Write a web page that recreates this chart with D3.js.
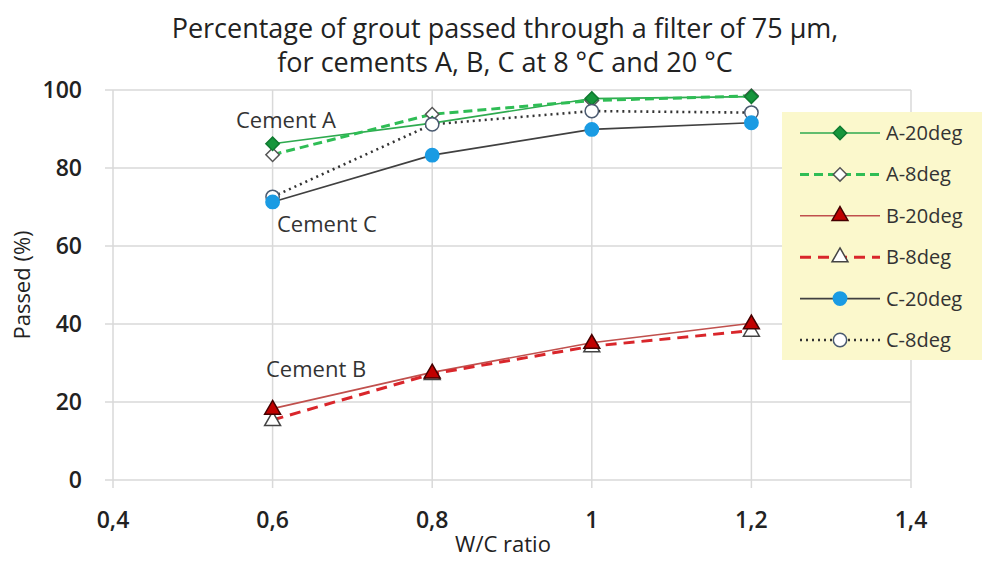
<!DOCTYPE html>
<html>
<head>
<meta charset="utf-8">
<script src="https://cdn.jsdelivr.net/npm/d3@7"></script>
<style>
  body { margin: 0; background: #fff; }
  svg { display: block; font-family: "Open Sans", "Noto Sans", sans-serif; }
</style>
</head>
<body>
<div id="chart"></div>
<script>
const width = 982;
const height = 561;

// data
const wcRatios = [0.6, 0.8, 1.0, 1.2];
const a20 = [86.2, 91.5, 97.8, 98.3];
const a8 = [83.4, 93.8, 97.3, 98.5];
const b20 = [18.3, 27.6, 35.2, 40.2];
const b8 = [15.4, 27.2, 34.3, 38.3];
const c20 = [71.3, 83.3, 89.9, 91.6];
const c8 = [72.6, 91.2, 94.6, 94.2];
const xTicks = [0.4, 0.6, 0.8, 1.0, 1.2, 1.4];
const yTicks = [0, 20, 40, 60, 80, 100];
const seriesNames = ["A-20deg", "A-8deg", "B-20deg", "B-8deg", "C-20deg", "C-8deg"];

const series = [
  {name: seriesNames[0], values: a20, stroke: "#2eaa4f", width: 1.6, dash: null, shape: "diamond", fill: "#16963c", mstroke: "#0f7a30"},
  {name: seriesNames[1], values: a8, stroke: "#2fbd55", width: 3, dash: "9,5", shape: "diamond", fill: "#fff", mstroke: "#555"},
  {name: seriesNames[2], values: b20, stroke: "#c0504d", width: 1.6, dash: null, shape: "triangle", fill: "#c00000", mstroke: "#400"},
  {name: seriesNames[3], values: b8, stroke: "#d9262b", width: 3, dash: "11,7", shape: "triangle", fill: "#fff", mstroke: "#444"},
  {name: seriesNames[4], values: c20, stroke: "#404040", width: 1.6, dash: null, shape: "circle", fill: "#1a9be3", mstroke: "#1a9be3"},
  {name: seriesNames[5], values: c8, stroke: "#333", width: 2.6, dash: "2,4", shape: "circle", fill: "#fff", mstroke: "#4a5a70"}
];

// marker path + extra rotation per shape
const markers = {
  diamond: {path: d3.symbol().type(d3.symbolSquare).size(90)(), rot: 45, dy: 0},
  triangle: {path: d3.symbol().type(d3.symbolTriangle).size(110)(), rot: 0, dy: 1},
  circle: {path: d3.symbol().type(d3.symbolCircle).size(140)(), rot: 0, dy: 0}
};

const svg = d3.select("#chart")
  .append("svg")
  .attr("width", width)
  .attr("height", height);

const x = d3.scaleLinear().domain([0.4, 1.4]).range([113, 911]);
const y = d3.scaleLinear().domain([0, 100]).range([480, 90]);

// gridlines
svg.append("g")
  .selectAll("line")
  .data(yTicks)
  .enter().append("line")
  .attr("x1", x(0.4) - 8).attr("x2", x(1.4))
  .attr("y1", d => y(d)).attr("y2", d => y(d))
  .attr("stroke", "#d9d9d9").attr("stroke-width", 1.5);

svg.append("g")
  .selectAll("line")
  .data(xTicks)
  .enter().append("line")
  .attr("x1", d => x(d)).attr("x2", d => x(d))
  .attr("y1", y(100)).attr("y2", y(0) + 8)
  .attr("stroke", "#d9d9d9").attr("stroke-width", 1.5);

// tick labels
svg.append("g")
  .selectAll("text")
  .data(yTicks)
  .enter().append("text")
  .attr("x", 82).attr("y", d => y(d) + 8)
  .attr("text-anchor", "end")
  .attr("font-size", 23).attr("font-weight", 600).attr("fill", "#222")
  .text(d => d);

const fmt = d => d3.format("")(+d.toFixed(1)).replace(".", ",");
svg.append("g")
  .selectAll("text")
  .data(xTicks)
  .enter().append("text")
  .attr("x", d => x(d)).attr("y", 528)
  .attr("text-anchor", "middle")
  .attr("font-size", 23).attr("font-weight", 600).attr("fill", "#222")
  .text(fmt);

// axis titles
svg.append("text")
  .attr("x", 503).attr("y", 552)
  .attr("text-anchor", "middle")
  .attr("font-size", 22).attr("fill", "#222")
  .text("W/C ratio");

svg.append("text")
  .attr("transform", "translate(30,285) rotate(-90)")
  .attr("text-anchor", "middle")
  .attr("font-size", 22).attr("fill", "#222")
  .text("Passed (%)");

// title
const title = svg.append("text")
  .attr("text-anchor", "middle")
  .attr("font-size", 27).attr("fill", "#222");
title.append("tspan").attr("x", 505).attr("y", 38)
  .text("Percentage of grout passed through a filter of 75 µm,");
title.append("tspan").attr("x", 505).attr("y", 72)
  .text("for cements A, B, C at 8 °C and 20 °C");

// lines
const line = d3.line()
  .x((d, i) => x(wcRatios[i]))
  .y(d => y(d));

const order = [2, 3, 4, 5, 0, 1];
order.forEach(k => {
  const s = series[k];
  svg.append("path")
    .datum(s.values)
    .attr("d", line)
    .attr("fill", "none")
    .attr("stroke", s.stroke)
    .attr("stroke-width", s.width)
    .attr("stroke-dasharray", s.dash);
});

// markers
order.slice().reverse().forEach(k => {
  const s = series[k];
  const m = markers[s.shape];
  svg.append("g")
    .selectAll("path")
    .data(s.values)
    .enter().append("path")
    .attr("d", m.path)
    .attr("transform", (d, i) => `translate(${x(wcRatios[i])},${y(d) + m.dy}) rotate(${m.rot})`)
    .attr("fill", s.fill)
    .attr("stroke", s.mstroke)
    .attr("stroke-width", 1.5);
});

// annotations
const notes = [
  {text: "Cement A", x: 236, y: 128},
  {text: "Cement C", x: 277, y: 232},
  {text: "Cement B", x: 266, y: 377}
];
svg.append("g")
  .selectAll("text")
  .data(notes)
  .enter().append("text")
  .attr("x", d => d.x).attr("y", d => d.y)
  .attr("font-size", 22).attr("fill", "#333")
  .text(d => d.text);

// legend
const legend = svg.append("g");
legend.append("rect")
  .attr("x", 782).attr("y", 112)
  .attr("width", 210).attr("height", 248)
  .attr("fill", "#fbf8cc");

const rowY = d3.scalePoint().domain(seriesNames).range([133, 340]);
series.forEach(s => {
  const m = markers[s.shape];
  const g = legend.append("g").attr("transform", `translate(0,${rowY(s.name)})`);
  g.append("line")
    .attr("x1", 800).attr("x2", 880)
    .attr("stroke", s.stroke)
    .attr("stroke-width", s.width)
    .attr("stroke-dasharray", s.dash);
  g.append("path")
    .attr("d", m.path)
    .attr("transform", `translate(840,0) rotate(${m.rot})`)
    .attr("fill", s.fill)
    .attr("stroke", s.mstroke)
    .attr("stroke-width", 1.5);
  g.append("text")
    .attr("x", 886).attr("y", 7)
    .attr("font-size", 20).attr("fill", "#333")
    .text(s.name);
});
</script>
</body>
</html>
